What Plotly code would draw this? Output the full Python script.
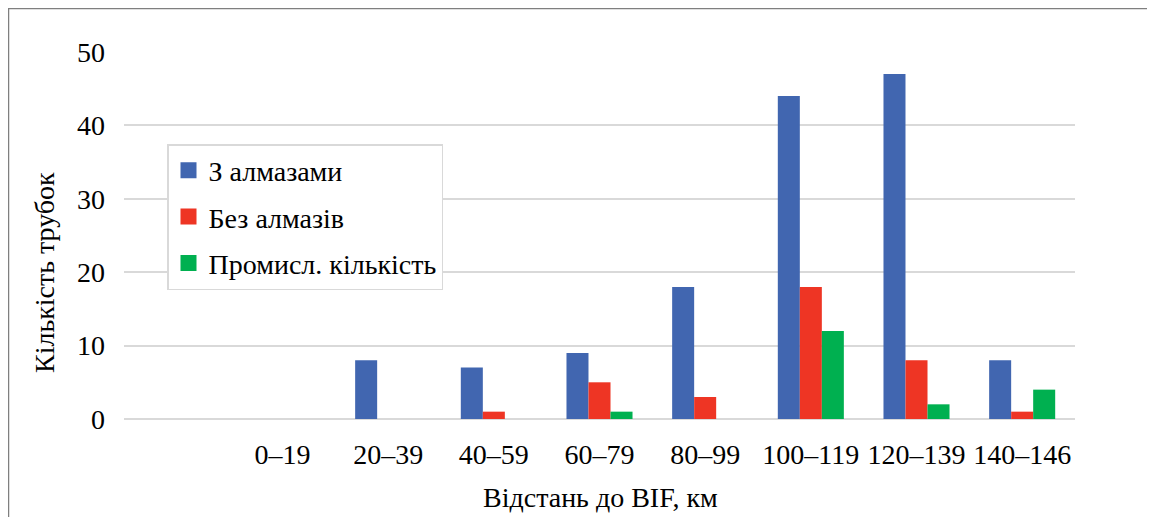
import plotly.graph_objects as go

categories = ["0–19", "20–39", "40–59", "60–79", "80–99", "100–119", "120–139", "140–146"]
with_diamonds = [0, 8, 7, 9, 18, 44, 47, 8]
without_diamonds = [0, 0, 1, 5, 3, 18, 8, 1]
commercial = [0, 0, 0, 1, 0, 12, 2, 4]

series_names = ["З алмазами", "Без алмазів", "Промисл. кількість"]
colors = ["#4166B0", "#EE3524", "#00B050"]

FONT = "Liberation Serif"
FS = 28
OFF = 8  # default page body margin in the browser
W, H = 1155 - OFF, 517 - OFF
# target screen positions (reference pixels)
PL, PR, PT, PB = 124, 1075, 52, 419
ML, MT = PL - OFF, PT - OFF
MR, MB = W - (PR - OFF), H - (PB - OFF)
pw, ph = PR - PL, PB - PT

def px_x(p):
    return (p - PL) / pw

def px_y(p):
    return (PB - p) / ph

fig = go.Figure()
for name, vals, col, grp in zip(series_names, [with_diamonds, without_diamonds, commercial], colors, ["a", "b", "c"]):
    fig.add_trace(go.Bar(x=categories, y=vals, name=name, marker_color=col,
                         marker_line_width=0, legendgroup=grp, showlegend=False))
    # legend entry with a larger square swatch
    fig.add_trace(go.Scatter(x=[None], y=[None], mode="markers", name=name,
                             marker=dict(symbol="square", size=18, color=col),
                             legendgroup=grp, showlegend=True))

fig.update_layout(
    width=W, height=H,
    margin=dict(l=ML, r=MR, t=MT, b=MB, autoexpand=False),
    paper_bgcolor="white", plot_bgcolor="white",
    font=dict(family=FONT, size=FS, color="black"),
    barmode="group", bargap=0.375, bargroupgap=0,
    showlegend=True,
    legend=dict(x=px_x(167), y=px_y(144), xanchor="left", yanchor="top",
                bordercolor="#D9D9D9", borderwidth=1.5, bgcolor="white",
                font=dict(family=FONT, size=FS, color="black"),
                traceorder="grouped", tracegroupgap=7, itemwidth=30),
    xaxis=dict(type="category", range=[-1.5, 7.5], showgrid=False, showline=False,
               ticks="", ticklabelstandoff=16, tickfont=dict(family=FONT, size=FS)),
    yaxis=dict(range=[0, 50], dtick=10, showgrid=True, gridcolor="#D9D9D9", gridwidth=1.5,
               zeroline=True, zerolinecolor="#D9D9D9", zerolinewidth=1.5,
               showline=False, ticks="", ticklabelstandoff=18, tickfont=dict(family=FONT, size=FS)),
    annotations=[
        dict(text="Відстань до BIF, км", xref="paper", yref="paper",
             x=px_x(600), y=px_y(497), xanchor="center", yanchor="middle",
             showarrow=False, font=dict(family=FONT, size=FS)),
        dict(text="Кількість трубок", xref="paper", yref="paper",
             x=px_x(44), y=px_y(273), xanchor="center", yanchor="middle",
             textangle=-90, showarrow=False, font=dict(family=FONT, size=FS)),
    ],
    shapes=[
        dict(type="rect", xref="paper", yref="paper",
             x0=px_x(8.5), x1=px_x(1200), y0=px_y(560), y1=px_y(8.5),
             line=dict(color="#7F7F7F", width=1.5), fillcolor="rgba(0,0,0,0)", layer="below"),
    ],
)

fig.write_html("out.html")
